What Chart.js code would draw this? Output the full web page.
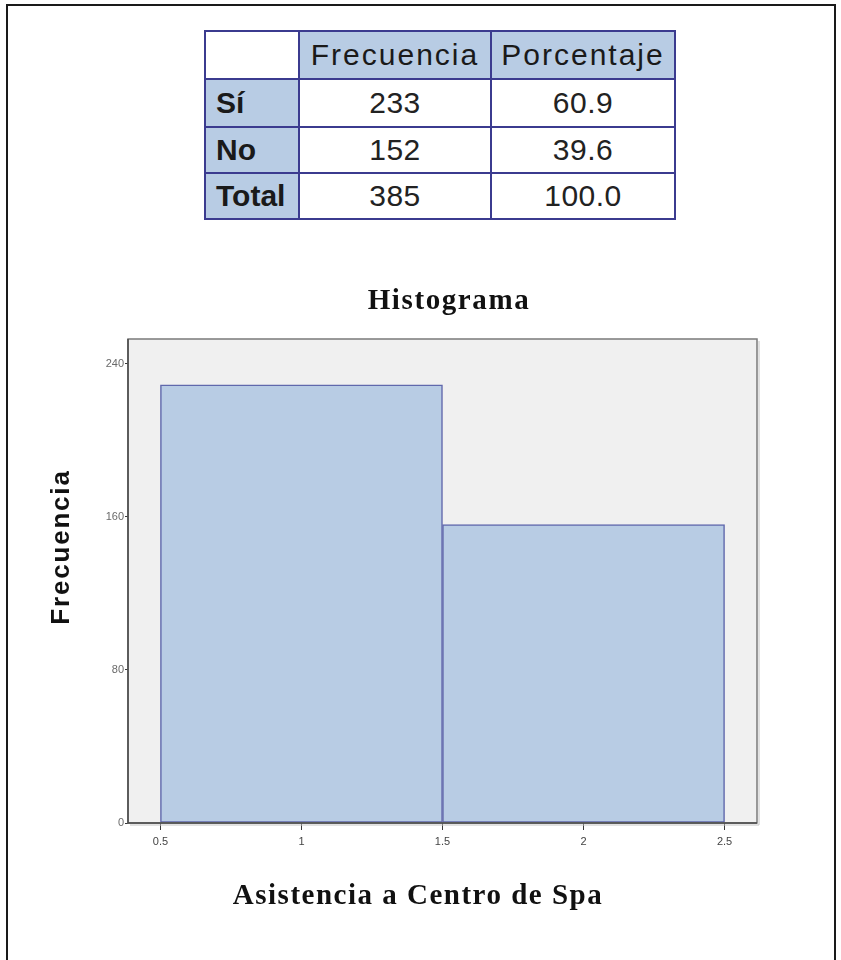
<!DOCTYPE html>
<html>
<head>
<meta charset="utf-8">
<script src="https://cdn.jsdelivr.net/npm/chart.js@4"></script>
<style>
  html, body { margin: 0; padding: 0; background: #ffffff; }
  body { width: 841px; height: 960px; position: relative; overflow: hidden; }
  #frame { position: absolute; left: 6px; top: 4px; width: 830px; height: 1000px; border: 2px solid #1a1a1a; box-sizing: border-box; }
  #tbl { position: absolute; left: 204px; top: 30px; border-collapse: collapse; table-layout: fixed;
         font-family: "Liberation Sans", Arial, sans-serif; color: #1a1a1a; }
  #tbl td { border: 2px solid #3b3b8f; padding: 0; line-height: 1; }
  #tbl td.head { background: #b8cce4; font-size: 30px; letter-spacing: 2px; text-align: center; }
  #tbl td.corner { background: #ffffff; }
  #tbl td.rowlab { background: #b8cce4; font-size: 30px; font-weight: bold; text-align: left; padding-left: 10px; }
  #tbl td.num { background: #ffffff; font-size: 30px; text-align: center; color: #222; letter-spacing: 0.5px; }
  #wrap { position: absolute; left: 0; top: 250px; width: 841px; height: 700px; }
</style>
</head>
<body>
<div id="frame"></div>
<table id="tbl"></table>
<div id="wrap"><canvas id="c" width="841" height="700"></canvas></div>
<script>
// ---- data ----
const tableColumns = ['Frecuencia', 'Porcentaje'];
const tableRowLabels = ['Sí', 'No', 'Total'];
const tableFrecuencia = ['233', '152', '385'];
const tablePorcentaje = ['60.9', '39.6', '100.0'];

const chartTitle = 'Histograma';
const xAxisTitle = 'Asistencia a Centro de Spa';
const yAxisTitle = 'Frecuencia';

const binCenters = [1, 2];
const binCounts = [229, 156];
const xTickValues = [0.5, 1, 1.5, 2, 2.5];
const yTickValues = [0, 80, 160, 240];

// ---- table ----
(function buildTable() {
  const tbl = document.getElementById('tbl');
  const colW = [94, 192, 184];
  const rowH = [48, 48, 46, 46];
  const cg = document.createElement('colgroup');
  colW.forEach(w => { const c = document.createElement('col'); c.style.width = w + 'px'; cg.appendChild(c); });
  tbl.appendChild(cg);
  const hr = document.createElement('tr');
  hr.style.height = rowH[0] + 'px';
  const corner = document.createElement('td'); corner.className = 'corner'; hr.appendChild(corner);
  tableColumns.forEach(t => { const td = document.createElement('td'); td.className = 'head'; td.textContent = t; hr.appendChild(td); });
  tbl.appendChild(hr);
  tableRowLabels.forEach((lab, i) => {
    const tr = document.createElement('tr');
    tr.style.height = rowH[i + 1] + 'px';
    const a = document.createElement('td'); a.className = 'rowlab'; a.textContent = lab; tr.appendChild(a);
    const b = document.createElement('td'); b.className = 'num'; b.textContent = tableFrecuencia[i]; tr.appendChild(b);
    const c = document.createElement('td'); c.className = 'num'; c.textContent = tablePorcentaje[i]; tr.appendChild(c);
    tbl.appendChild(tr);
  });
})();

// ---- chart ----
const plotBg = {
  id: 'plotBg',
  beforeDatasetsDraw(chart) {
    const {ctx, chartArea: a} = chart;
    ctx.save();
    ctx.fillStyle = '#f0f0f0';
    ctx.fillRect(a.left, a.top, a.right - a.left, a.bottom - a.top);
    ctx.restore();
  },
  afterDatasetsDraw(chart) {
    const {ctx, chartArea: a} = chart;
    ctx.save();
    ctx.strokeStyle = '#c4c4c4';
    ctx.lineWidth = 1;
    ctx.beginPath();
    ctx.moveTo(a.right + 2, a.top + 2); ctx.lineTo(a.right + 2, a.bottom + 2); ctx.lineTo(a.left + 2, a.bottom + 2);
    ctx.stroke();
    ctx.strokeStyle = '#7a7a7a';
    ctx.lineWidth = 1.5;
    ctx.strokeRect(a.left, a.top, a.right - a.left, a.bottom - a.top);
    ctx.strokeStyle = '#4a4a4a';
    ctx.beginPath();
    ctx.moveTo(a.left, a.top); ctx.lineTo(a.left, a.bottom); ctx.lineTo(a.right, a.bottom);
    ctx.stroke();
    ctx.restore();
  }
};

const titles = {
  id: 'titles',
  afterDraw(chart, args, opts) {
    const ctx = chart.ctx;
    ctx.save();
    ctx.fillStyle = '#111';
    ctx.textAlign = 'center';
    ctx.textBaseline = 'alphabetic';
    ctx.letterSpacing = '1.6px';
    ctx.font = 'bold 29px "Liberation Serif", "Times New Roman", serif';
    ctx.fillText(chartTitle, opts.title.x, opts.title.y);
    ctx.letterSpacing = '1.5px';
    ctx.fillText(xAxisTitle, opts.xTitle.x, opts.xTitle.y);
    ctx.letterSpacing = '1.8px';
    ctx.font = 'bold 26px "Liberation Sans", Arial, sans-serif';
    ctx.translate(opts.yTitle.x, opts.yTitle.y);
    ctx.rotate(-Math.PI / 2);
    ctx.fillText(yAxisTitle, 0, 0);
    ctx.restore();
  }
};

new Chart(document.getElementById('c'), {
  type: 'bar',
  data: {
    datasets: [{
      data: binCenters.map((x, i) => ({x: x, y: binCounts[i]})),
      backgroundColor: '#b8cce4',
      borderColor: '#6068ac',
      borderWidth: 1.5,
      borderSkipped: false,
      barThickness: 'flex',
      barPercentage: 1,
      categoryPercentage: 1
    }]
  },
  options: {
    responsive: false,
    animation: false,
    devicePixelRatio: 1,
    layout: { padding: { top: 89, right: 84, bottom: 0, left: 0 } },
    plugins: {
      legend: { display: false },
      title: { display: false },
      tooltip: { enabled: false },
      titles: {
        title: { x: 449, y: 59 },
        xTitle: { x: 418, y: 654 },
        yTitle: { x: 69, y: 297 }
      }
    },
    scales: {
      x: {
        type: 'linear',
        offset: false,
        min: 0.385,
        max: 2.615,
        afterBuildTicks(scale) { scale.ticks = xTickValues.map(v => ({value: v})); },
        afterFit(scale) { scale.height = 127; },
        border: { display: false },
        grid: { display: true, offset: false, drawOnChartArea: false, drawTicks: true, tickLength: 7, color: '#3a3a3a', lineWidth: 1 },
        ticks: {
          padding: 5,
          color: '#444',
          font: { family: '"Liberation Sans", Arial, sans-serif', size: 11 },
          maxRotation: 0,
          autoSkip: false,
          callback: v => String(v)
        }
      },
      y: {
        type: 'linear',
        min: 0,
        max: 253,
        afterBuildTicks(scale) { scale.ticks = yTickValues.map(v => ({value: v})); },
        afterFit(scale) { scale.width = 128; },
        border: { display: false },
        grid: { display: true, drawOnChartArea: false, drawTicks: true, tickLength: 3, color: '#3a3a3a', lineWidth: 1 },
        ticks: {
          padding: 1,
          color: '#6a6a6a',
          font: { family: '"Liberation Sans", Arial, sans-serif', size: 11 },
          autoSkip: false,
          callback: v => String(v)
        }
      }
    }
  },
  plugins: [plotBg, titles]
});
</script>
</body>
</html>
